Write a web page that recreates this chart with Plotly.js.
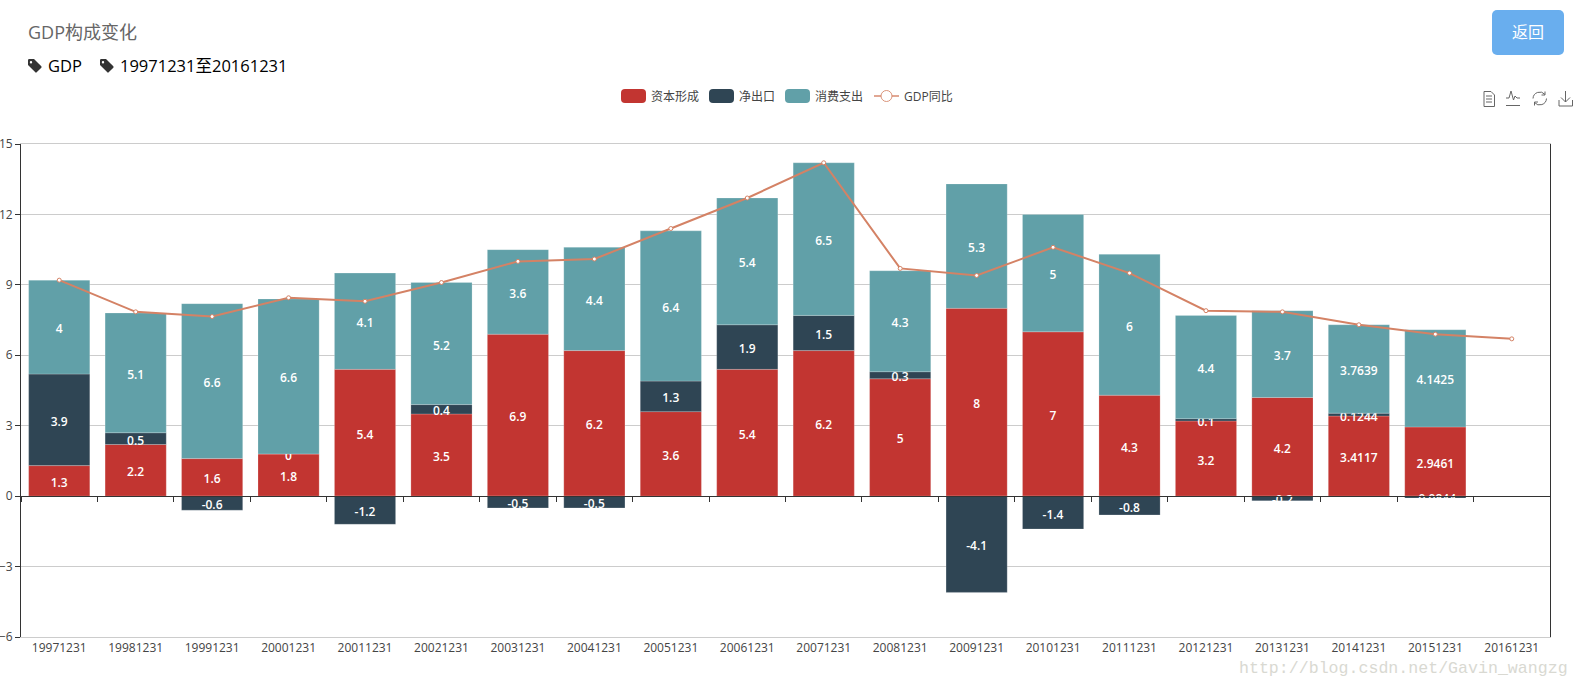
<!DOCTYPE html>
<html><head><meta charset="utf-8">
<script src="https://cdn.plot.ly/plotly-3.0.1.min.js"></script>
<style>
html,body{margin:0;padding:0;background:#fff;width:1580px;height:687px;overflow:hidden;font-family:"Open Sans","Noto Sans CJK SC",sans-serif}
#chart{position:absolute;left:0;top:0;width:1580px;height:687px}
.t{position:absolute;white-space:nowrap;line-height:1}
svg.i{position:absolute;overflow:visible}
</style></head><body>
<div id="chart"></div>
<div class="t" style="left:28px;top:23px;font-size:18px;color:#666">GDP构成变化</div>
<svg class="i" style="left:28px;top:59px" width="14" height="14" viewBox="0 0 14 14"><path fill="#333" d="M0 1.2Q0 0 1.2 0H6L13.3 7.3Q14 8 13.3 8.7L8.7 13.3Q8 14 7.3 13.3L0 6ZM3 2A1.2 1.2 0 1 0 3 4.4A1.2 1.2 0 1 0 3 2Z" fill-rule="evenodd"/></svg>
<div class="t" style="left:48px;top:58px;font-size:16.5px;color:#000">GDP</div>
<svg class="i" style="left:100px;top:59px" width="14" height="14" viewBox="0 0 14 14"><path fill="#333" d="M0 1.2Q0 0 1.2 0H6L13.3 7.3Q14 8 13.3 8.7L8.7 13.3Q8 14 7.3 13.3L0 6ZM3 2A1.2 1.2 0 1 0 3 4.4A1.2 1.2 0 1 0 3 2Z" fill-rule="evenodd"/></svg>
<div class="t" style="left:120px;top:58px;font-size:16.5px;color:#000">19971231至20161231</div>
<div class="t" style="left:1492px;top:10px;width:72px;height:45px;line-height:45px;text-align:center;background:#69aeee;border-radius:5px;color:#fff;font-size:16px">返回</div>
<div id="legend"></div>
<svg class="i" style="left:1480px;top:88px" width="100" height="20" fill="none" stroke="#666" stroke-width="1">
<path d="M4 3.5H11L14.5 7V18.5H4ZM6 8H12M6 11H12M6 14H12"/>
<path d="M26 10H29L31 3L33.5 12L35 8L37 10H40M26 17.5H40"/>
<path d="M53 10.5A6.8 6.8 0 0 1 65 6.5M66.500 10.500A6.800 6.800 0 0 1 54.500 14.500M65 3.500V7H61.500M54.500 17.500V14H58"/>
<path d="M85.500 3V14M81 9.500L85.500 14L90 9.500M79 12V18H92.500V12"/>
</svg>
<div class="t" style="left:1239px;top:661px;font-family:'Liberation Mono',monospace;font-size:16.6px;color:#d9d9d2">http://blog.csdn.net/Gavin_wangzg</div>
<script>
var categories=['19971231','19981231','19991231','20001231','20011231','20021231','20031231','20041231','20051231','20061231','20071231','20081231','20091231','20101231','20111231','20121231','20131231','20141231','20151231','20161231'];
var capital=[1.3,2.2,1.6,1.8,5.4,3.5,6.9,6.2,3.6,5.4,6.2,5,8,7,4.3,3.2,4.2,3.4117,2.9461,null];
var netExports=[3.9,0.5,-0.6,0,-1.2,0.4,-0.5,-0.5,1.3,1.9,1.5,0.3,-4.1,-1.4,-0.8,0.1,-0.2,0.1244,-0.0844,null];
var consumption=[4,5.1,6.6,6.6,4.1,5.2,3.6,4.4,6.4,5.4,6.5,4.3,5.3,5,6,4.4,3.7,3.7639,4.1425,null];
var gdpYoY=[9.2,7.85,7.65,8.45,8.3,9.1,10,10.1,11.4,12.7,14.2,9.7,9.4,10.6,9.5,7.9,7.85,7.3,6.9,6.7];
var yTicks=[-6,-3,0,3,6,9,12,15];
var names=['资本形成','净出口','消费支出','GDP同比'];
var colors=['#c23531','#2f4554','#61a0a8','#d48265'];

function barTrace(vals,i){
  return {type:'bar',name:names[i],x:categories,
    y:vals.map(function(v){return v===0?0.0001:v;}),   // a zero-height bar drops its label
    text:vals.map(function(v){return v===null?'':String(v);}),
    textposition:'inside',insidetextanchor:'middle',textangle:0,constraintext:'none',
    textfont:{color:'#fff',size:12,family:'"Open Sans","Noto Sans CJK SC",sans-serif',weight:600},
    marker:{color:colors[i],line:{color:'rgba(255,255,255,0.2)',width:1}},xaxis:'x',yaxis:'y'};
}
var data=[barTrace(capital,0),barTrace(netExports,1),barTrace(consumption,2),
  {type:'scatter',mode:'lines+markers',name:names[3],x:categories,y:gdpYoY,xaxis:'x2',yaxis:'y',
   line:{color:colors[3],width:2},marker:{size:4,color:'#fff',line:{color:colors[3],width:1}}}];
var tickFont={family:'"Open Sans","Noto Sans CJK SC",sans-serif',size:12,color:'#444'};
var layout={width:1580,height:687,margin:{l:21,r:30,t:144,b:49.5,pad:0},
  paper_bgcolor:'#fff',plot_bgcolor:'#fff',showlegend:false,barmode:'relative',bargap:0.2,
  xaxis:{type:'category',categoryorder:'array',categoryarray:categories,range:[-0.5,19.5],autorange:false,
    anchor:'free',position:6/21,showticklabels:false,ticks:'outside',ticklen:5,tickwidth:1,tickcolor:'#333',
    tickson:'boundaries',showline:true,linecolor:'#333',linewidth:1,showgrid:false,zeroline:false,fixedrange:true},
  xaxis2:{type:'category',categoryorder:'array',categoryarray:categories,range:[-0.5,19.5],autorange:false,
    overlaying:'x',anchor:'y',side:'bottom',tickmode:'array',tickvals:categories,ticktext:categories,ticks:'',
    tickangle:0,tickfont:tickFont,showline:true,mirror:true,linecolor:'#ccc',linewidth:1,showgrid:false,zeroline:false,fixedrange:true},
  yaxis:{range:[-6,15],autorange:false,tickmode:'array',tickvals:yTicks,ticks:'outside',ticklen:5,tickwidth:1,tickcolor:'#333',
    tickfont:tickFont,showline:true,linecolor:'#333',linewidth:1,mirror:true,showgrid:true,gridcolor:'#ccc',gridwidth:1,zeroline:false,fixedrange:true,anchor:'x'}
};
Plotly.newPlot('chart',data,layout,{displayModeBar:false,staticPlot:true}).then(function(){
  document.querySelectorAll('#chart text.bartext').forEach(function(t){t.setAttribute('dy','1.5');});
});

// legend
var legendPos=[[621,651],[709,739],[785,815],[874,904]];
var html='';
names.forEach(function(n,i){
  var p=legendPos[i];
  if(i<3){html+='<div style="position:absolute;left:'+p[0]+'px;top:89px;width:25px;height:14px;border-radius:4px;background:'+colors[i]+'"></div>';}
  else{html+='<svg class="i" style="left:'+p[0]+'px;top:89px" width="25" height="14"><path d="M0 7H25" stroke="'+colors[3]+'" stroke-opacity="0.7" stroke-width="2"/><circle cx="12.5" cy="7" r="5.5" fill="#fff" stroke="'+colors[3]+'" stroke-opacity="0.85" stroke-width="1"/></svg>';}
  html+='<div class="t" style="left:'+p[1]+'px;top:91px;font-size:12px;color:#444">'+n+'</div>';
});
document.getElementById('legend').innerHTML=html;
</script>
</body></html>
